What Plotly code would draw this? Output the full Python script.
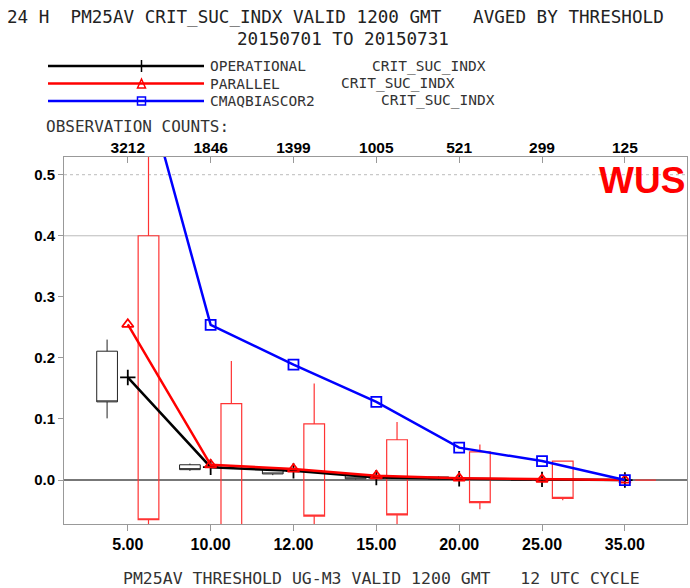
import plotly.graph_objects as go

# Thresholds (categories) and observation counts per threshold
thresholds = ["5.00", "10.00", "12.00", "15.00", "20.00", "25.00", "35.00"]
obs_counts = ["3212", "1846", "1399", "1005", "521", "299", "125"]

# Critical success index averaged by threshold
operational = [0.168, 0.021, 0.015, 0.004, 0.002, 0.001, 0.0]
parallel = [0.255, 0.025, 0.018, 0.007, 0.003, 0.001, 0.0]
cmaqbiascor2 = [0.75, 0.254, 0.189, 0.128, 0.053, 0.031, 0.0]

# Daily spread boxes (operational, black)
op_low = [0.101, 0.015, 0.008, 0.001, 0.001, 0.0, 0.0]
op_q1 = [0.128, 0.017, 0.010, 0.002, 0.002, 0.0, 0.0]
op_q3 = [0.211, 0.025, 0.018, 0.007, 0.005, 0.002, 0.0]
op_high = [0.230, 0.027, 0.020, 0.008, 0.006, 0.002, 0.0]

# Daily spread boxes (parallel, red)
par_low = [-0.20, -0.12, -0.09, -0.085, -0.048, -0.033, 0.0]
par_q1 = [-0.065, -0.09, -0.059, -0.057, -0.037, -0.030, 0.0]
par_q3 = [0.400, 0.125, 0.092, 0.066, 0.046, 0.031, 0.0]
par_high = [0.75, 0.195, 0.158, 0.095, 0.058, 0.031, 0.0]

W, H = 690, 588
ML, MR, MT, MB = 64, 3, 157, 64
PW, PH = W - ML - MR, H - MT - MB


def px(x):
    return (x - ML) / PW


def py(y):
    return (H - MB - y) / PH


pos = list(range(len(thresholds)))
mono = "DejaVu Sans Mono"
sans = "Liberation Sans, Arial"

fig = go.Figure()

fig.add_trace(go.Box(
    x=[p - 0.25 for p in pos], q1=op_q1, median=op_q1, q3=op_q3,
    lowerfence=op_low, upperfence=op_high, width=0.25, whiskerwidth=0,
    line=dict(color="#222222", width=1), fillcolor="rgba(0,0,0,0)",
    showlegend=False, hoverinfo="skip",
))
fig.add_trace(go.Box(
    x=[p + 0.25 for p in pos], q1=par_q1, median=par_q1, q3=par_q3,
    lowerfence=par_low, upperfence=par_high, width=0.25, whiskerwidth=0,
    line=dict(color="#ff3333", width=1.2), fillcolor="rgba(0,0,0,0)",
    showlegend=False, hoverinfo="skip",
))

fig.add_trace(go.Scatter(
    x=pos, y=operational, mode="lines+markers", name="OPERATIONAL",
    line=dict(color="black", width=2.5),
    marker=dict(symbol="cross-thin", size=11, line=dict(color="black", width=1.8)),
    showlegend=False,
))
fig.add_trace(go.Scatter(
    x=pos, y=parallel, mode="lines+markers", name="PARALLEL",
    line=dict(color="#ff0000", width=2.5),
    marker=dict(symbol="triangle-up-open", size=10, color="#ff0000", line=dict(width=1.8)),
    showlegend=False,
))
fig.add_trace(go.Scatter(
    x=pos, y=cmaqbiascor2, mode="lines+markers", name="CMAQBIASCOR2",
    line=dict(color="#0000ff", width=2.5),
    marker=dict(symbol="square-open", size=10, color="#0000ff", line=dict(width=1.8)),
    showlegend=False,
))
# Top axis carries the observation counts
fig.add_trace(go.Scatter(x=pos, y=[None] * len(pos), xaxis="x2", showlegend=False,
                         hoverinfo="skip"))

xr = [-0.77, 6.75]
fig.update_layout(
    width=W, height=H, margin=dict(l=ML, r=MR, t=MT, b=MB, autoexpand=False),
    paper_bgcolor="white", plot_bgcolor="white", boxmode="overlay",
    xaxis=dict(range=xr, tickmode="array", tickvals=pos, ticktext=thresholds,
               ticks="outside", ticklen=6, tickcolor="#999999", showline=True,
               linecolor="#999999", linewidth=1, mirror=True, showgrid=False,
               zeroline=False,
               tickfont=dict(family=sans, size=16, color="black", weight="bold")),
    xaxis2=dict(range=xr, overlaying="x", side="top", tickmode="array", tickvals=pos,
                ticktext=obs_counts, ticks="inside", ticklen=6, tickcolor="#999999",
                showline=False, showgrid=False, zeroline=False,
                tickfont=dict(family=sans, size=15.5, color="black", weight="bold")),
    yaxis=dict(range=[-0.072, 0.529], tickmode="array",
               tickvals=[0, 0.1, 0.2, 0.3, 0.4, 0.5],
               ticktext=["0.0", "0.1", "0.2", "0.3", "0.4", "0.5"],
               ticks="outside", ticklen=5, tickcolor="#999999", showline=True,
               linecolor="#999999", linewidth=1, mirror=True, showgrid=False,
               zeroline=True, zerolinecolor="#777777", zerolinewidth=1.5,
               tickfont=dict(family=sans, size=15, color="black", weight="bold")),
)

# Reference lines
fig.add_shape(type="line", xref="paper", yref="y", x0=0, x1=1, y0=0.4, y1=0.4,
              line=dict(color="#bbbbbb", width=1), layer="below")
fig.add_shape(type="line", xref="paper", yref="y", x0=0, x1=1, y0=0.5, y1=0.5,
              line=dict(color="#bbbbbb", width=1, dash="dot"), layer="below")

# Header text
fig.add_annotation(text="24 H  PM25AV CRIT_SUC_INDX VALID 1200 GMT   AVGED BY THRESHOLD",
                   x=px(5), y=py(17), xref="paper", yref="paper", xanchor="left",
                   yanchor="middle", showarrow=False,
                   font=dict(family=mono, size=17.6, color="#222222"))
fig.add_annotation(text="20150701 TO 20150731", x=px(343), y=py(39), xref="paper",
                   yref="paper", xanchor="center", yanchor="middle", showarrow=False,
                   font=dict(family=mono, size=17.6, color="#222222"))

# Legend block
legend_rows = [
    ("OPERATIONAL", 370, "black", 66),
    ("PARALLEL", 339, "#ff0000", 83.5),
    ("CMAQBIASCOR2", 379, "#0000ff", 101),
]
for label, x2, col, yy in legend_rows:
    fig.add_shape(type="line", xref="paper", yref="paper", x0=px(48), x1=px(204),
                  y0=py(yy), y1=py(yy), line=dict(color=col, width=2.5))
    fig.add_annotation(text=label, x=px(208), y=py(yy), xref="paper", yref="paper",
                       xanchor="left", yanchor="middle", showarrow=False,
                       font=dict(family=mono, size=14.5, color="#333333"))
    fig.add_annotation(text="CRIT_SUC_INDX", x=px(x2), y=py(yy), xref="paper",
                       yref="paper", xanchor="left", yanchor="middle", showarrow=False,
                       font=dict(family=mono, size=14.5, color="#333333"))

mx = 141.5
fig.add_shape(type="line", xref="paper", yref="paper", x0=px(mx), x1=px(mx),
              y0=py(60), y1=py(72), line=dict(color="black", width=1.5))
fig.add_shape(type="path", xref="paper", yref="paper",
              path=f"M {px(mx - 4)} {py(88)} L {px(mx + 4)} {py(88)} L {px(mx)} {py(79)} Z",
              line=dict(color="#ff0000", width=1.5))
fig.add_shape(type="rect", xref="paper", yref="paper", x0=px(mx - 4), x1=px(mx + 4),
              y0=py(97), y1=py(105), line=dict(color="#0000ff", width=1.5))

fig.add_annotation(text="OBSERVATION COUNTS:", x=px(44), y=py(127), xref="paper",
                   yref="paper", xanchor="left", yanchor="middle", showarrow=False,
                   font=dict(family=mono, size=16, color="#333333"))

fig.add_annotation(text="WUS", x=px(687), y=py(180), xref="paper", yref="paper",
                   xanchor="right", yanchor="middle", showarrow=False,
                   font=dict(family=sans, size=37, color="#ff0000", weight="bold"))

fig.add_annotation(text="PM25AV THRESHOLD UG-M3 VALID 1200 GMT   12 UTC CYCLE",
                   x=px(121), y=py(578), xref="paper", yref="paper", xanchor="left",
                   yanchor="middle", showarrow=False,
                   font=dict(family=mono, size=16.5, color="#333333"))

fig.write_html("out.html")
